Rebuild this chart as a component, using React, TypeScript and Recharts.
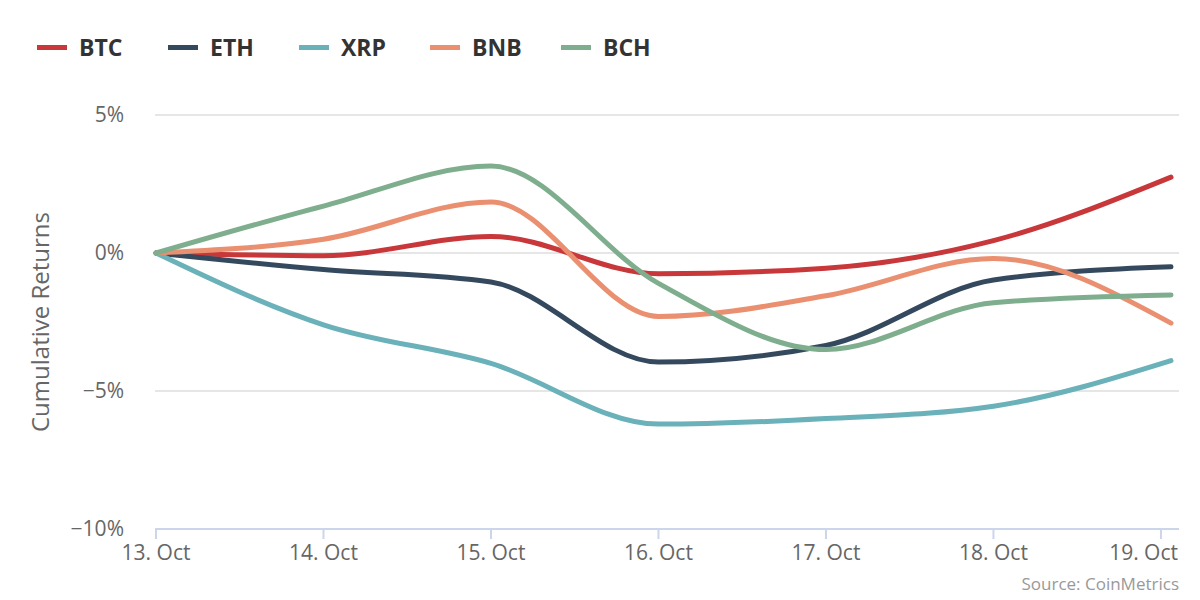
import React from "react";
import { CartesianGrid, Line, LineChart, XAxis, YAxis } from "recharts";

// x = days since 13 Oct; last reading is a little after midnight on 19 Oct
const dayPos = [0, 1, 2, 3, 4, 5, 6.06];
const dayTicks = [0, 1, 2, 3, 4, 5, 6];
const dayLabels = ["13. Oct", "14. Oct", "15. Oct", "16. Oct", "17. Oct", "18. Oct", "19. Oct"];
const btc = [0, -0.1, 0.6, -0.75, -0.55, 0.45, 2.75];
const eth = [0, -0.6, -1.05, -3.95, -3.35, -0.98, -0.5];
const xrp = [0, -2.6, -4.0, -6.2, -6.0, -5.55, -3.9];
const bnb = [0, 0.5, 1.85, -2.3, -1.55, -0.2, -2.54];
const bch = [0, 1.7, 3.15, -1.1, -3.5, -1.8, -1.52];
const yTicks = [-10, -5, 0, 5];

const series = [
  { key: "BTC", color: "#c8373a" },
  { key: "ETH", color: "#34495e" },
  { key: "XRP", color: "#6ab1b9" },
  { key: "BNB", color: "#ea8f6f" },
  { key: "BCH", color: "#7eae8d" }
];

const data = dayPos.map((t, i) => ({
  t,
  BTC: btc[i],
  ETH: eth[i],
  XRP: xrp[i],
  BNB: bnb[i],
  BCH: bch[i]
}));

const font = "'Open Sans', sans-serif";

function fmt(v: number) {
  return (v < 0 ? "\u2212" + Math.abs(v) : String(v)) + "%";
}

// last label is pulled inside the chart like the original
function DayTick(props: any) {
  const { x, y, payload } = props;
  const last = payload.value === dayTicks[dayTicks.length - 1];
  return (
    <text
      x={last ? 1178 : x}
      y={y}
      dy="0.71em"
      textAnchor={last ? "end" : "middle"}
      fill="#666"
      fontSize={21}
      fontFamily={font}
    >
      {dayLabels[payload.value]}
    </text>
  );
}

export default function App() {
  return (
    <div style={{ position: "absolute", left: 0, top: 0, width: 1200, height: 600, fontFamily: font, background: "#fff" }}>
      <div style={{ position: "absolute", left: 37, top: 32, display: "flex" }}>
        {series.map((s) => (
          <div key={s.key} style={{ width: 131, display: "flex", alignItems: "center" }}>
            <span style={{ display: "inline-block", width: 30, height: 5, background: s.color, marginRight: 12 }} />
            <span style={{ fontSize: 23, fontWeight: 700, color: "#333", lineHeight: "30px" }}>{s.key}</span>
          </div>
        ))}
      </div>
      <LineChart width={1200} height={600} data={data} margin={{ top: 115, right: 21, bottom: 31, left: 0 }}>
        <CartesianGrid vertical={false} stroke="#e6e6e6" strokeWidth={2} />
        <XAxis
          dataKey="t"
          type="number"
          domain={[0, 6.06]}
          ticks={dayTicks}
          height={40}
          padding={{ left: 1, right: 8 }}
          axisLine={{ stroke: "#ccd6eb", strokeWidth: 2 }}
          tickLine={{ stroke: "#ccd6eb", strokeWidth: 2 }}
          tickSize={10}
          tickMargin={6}
          tick={<DayTick />}
          interval={0}
        />
        <YAxis
          width={155}
          domain={[-10, 5]}
          ticks={yTicks}
          tickFormatter={fmt}
          axisLine={false}
          tickLine={false}
          tickSize={0}
          tickMargin={31}
          tick={{ fill: "#666", fontSize: 21, fontFamily: font }}
          label={{ value: "Cumulative Returns", angle: -90, position: "center", dx: -37, fill: "#666", fontSize: 24, fontFamily: font }}
        />
        {series.map((s) => (
          <Line
            key={s.key}
            type="monotone"
            dataKey={s.key}
            stroke={s.color}
            strokeWidth={5}
            strokeLinecap="round"
            dot={false}
            activeDot={false}
            isAnimationActive={false}
          />
        ))}
      </LineChart>
      <div style={{ position: "absolute", right: 21, top: 572, fontSize: 17, color: "#999" }}>Source: CoinMetrics</div>
    </div>
  );
}
